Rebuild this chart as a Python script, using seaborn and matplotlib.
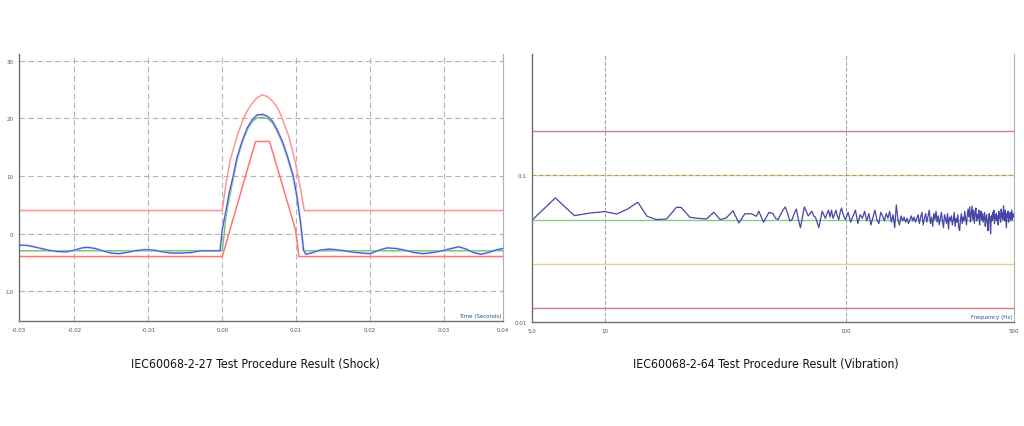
import numpy as np
import matplotlib
matplotlib.use('Agg')
import matplotlib.pyplot as plt
import seaborn as sns

# ---- shock test (IEC60068-2-27) ----
t_nominal = [-0.0275, 0.0, 0.0002, 0.0005, 0.001, 0.0015, 0.002, 0.0027, 0.0034, 0.0041,
             0.0047, 0.0054, 0.0061, 0.0068, 0.0074, 0.0081, 0.0088, 0.0096, 0.0101,
             0.0106, 0.011, 0.038]
g_nominal = [-3.0, -3.0, -0.8, 3.0, 6.4, 9.6, 12.8, 15.8, 18.1, 19.5,
             20.1, 20.2, 20.0, 19.2, 17.8, 15.8, 13.2, 9.7, 6.3,
             1.8, -3.0, -3.0]

t_measured = [-0.0275, -0.0265, -0.0255, -0.0245, -0.0235, -0.0225, -0.0212, -0.02, -0.019,
              -0.0182, -0.0172, -0.0162, -0.015, -0.014, -0.013, -0.0118, -0.0105, -0.0092,
              -0.008, -0.0068, -0.0055, -0.0042, -0.003, -0.0015, -0.0003, 0.0, 0.00045,
              0.0009, 0.00148, 0.002, 0.0027, 0.0034, 0.0041, 0.0047, 0.0054, 0.0061,
              0.0068, 0.0074, 0.0081, 0.0088, 0.0096, 0.0101, 0.0106, 0.011, 0.0113,
              0.012, 0.0132, 0.0145, 0.016, 0.0175, 0.019, 0.02, 0.0212, 0.0223, 0.0235,
              0.0247, 0.026, 0.0272, 0.0285, 0.0298, 0.031, 0.032, 0.033, 0.034, 0.035,
              0.036, 0.0372, 0.038]
g_measured = [-2.0, -2.05, -2.3, -2.6, -2.9, -3.1, -3.2, -2.9, -2.5,
              -2.4, -2.6, -3.0, -3.4, -3.5, -3.3, -3.0, -2.8, -2.9,
              -3.2, -3.4, -3.4, -3.3, -3.0, -3.0, -3.0, 0.7, 3.6,
              6.8, 10.0, 13.2, 16.1, 18.4, 19.8, 20.6, 20.7, 20.4,
              19.5, 18.1, 16.1, 13.5, 10.0, 6.5, 1.9, -2.9, -3.6,
              -3.4, -2.9, -2.7, -2.9, -3.2, -3.4, -3.5, -2.9, -2.5, -2.6,
              -2.9, -3.3, -3.5, -3.3, -3.0, -2.6, -2.3, -2.7, -3.3, -3.6,
              -3.3, -2.8, -2.6]

t_upper = [-0.0275, 0.0, 0.00045, 0.0011, 0.002, 0.0029, 0.0035, 0.0041, 0.0047, 0.0054,
           0.0061, 0.0068, 0.0074, 0.0079, 0.009, 0.0099, 0.0106, 0.0111, 0.038]
g_upper = [4.0, 4.0, 8.2, 12.9, 16.9, 20.1, 21.6, 22.7, 23.6, 24.1,
           23.8, 23.0, 22.0, 20.7, 16.9, 12.3, 7.7, 4.0, 4.0]

t_lower = [-0.0275, 0.0, 0.0045, 0.0064, 0.0099, 0.0102, 0.01035, 0.038]
g_lower = [-4.0, -4.0, 16.0, 16.0, 0.7, -2.0, -4.0, -4.0]

shock_xticks = [-0.0275, -0.02, -0.01, 0.0, 0.01, 0.02, 0.03, 0.038]
shock_xlabels = ['-0.03', '-0.02', '-0.01', '0.00', '0.01', '0.02', '0.03', '0.04']
shock_yticks = [-10, 0, 10, 20, 30]

# ---- vibration test (IEC60068-2-64) ----
freq_low = [5.0, 6.25, 7.5, 8.75, 10.0, 11.25, 12.5, 13.75, 15.0, 16.4, 18.1, 19.9, 20.8,
            22.6, 24.4, 26.5, 28.4, 30.2, 32.0, 34.1, 36.1, 38.2, 40.7, 42.7, 43.7, 45.7,
            48.1]
psd_low = [0.0495, 0.0703, 0.0532, 0.0555, 0.0567, 0.0546, 0.0592, 0.0657, 0.0527, 0.050,
           0.0505, 0.0607, 0.0605, 0.0518, 0.051, 0.0505, 0.0561, 0.050, 0.0513, 0.0574,
           0.0474, 0.0548, 0.0548, 0.0527, 0.057, 0.0479, 0.056]

freq_mid = np.arange(50, 99, 1.25)
psd_mid = [0.055, 0.051, 0.050, 0.054, 0.058, 0.061, 0.055, 0.049, 0.050, 0.055,
           0.059, 0.050, 0.044, 0.052, 0.061, 0.057, 0.053, 0.055, 0.057, 0.053,
           0.052, 0.048, 0.044, 0.050, 0.057, 0.054, 0.051, 0.055, 0.058, 0.052,
           0.058, 0.051, 0.054, 0.058, 0.053, 0.050, 0.056, 0.060, 0.055, 0.052]

freq_high = np.arange(100, 500.1, 2.5)
psd_high = [0.050, 0.056, 0.048, 0.053, 0.058, 0.047, 0.054, 0.051, 0.057, 0.049,
            0.055, 0.046, 0.052, 0.058, 0.050, 0.047, 0.056, 0.053, 0.049, 0.055,
            0.051, 0.057, 0.048, 0.054, 0.044, 0.063, 0.050, 0.046, 0.053, 0.049,
            0.052, 0.048, 0.051, 0.047, 0.050, 0.053, 0.049, 0.052, 0.048, 0.051,
            0.054, 0.047, 0.052, 0.056, 0.046, 0.051, 0.055, 0.048, 0.053, 0.058,
            0.047, 0.052, 0.045, 0.055, 0.050, 0.057, 0.048, 0.053, 0.046, 0.051,
            0.056, 0.049, 0.044, 0.054, 0.051, 0.047, 0.055, 0.043, 0.052, 0.049,
            0.053, 0.046, 0.050, 0.056, 0.045, 0.051, 0.048, 0.054, 0.044, 0.042,
            0.050, 0.055, 0.047, 0.052, 0.049, 0.057, 0.051, 0.046, 0.053, 0.059,
            0.052, 0.061, 0.048, 0.055, 0.062, 0.050, 0.058, 0.047, 0.056, 0.060,
            0.049, 0.054, 0.051, 0.058, 0.046, 0.053, 0.057, 0.050, 0.055, 0.048,
            0.052, 0.056, 0.045, 0.050, 0.054, 0.047, 0.042, 0.051, 0.055, 0.048,
            0.040, 0.053, 0.049, 0.056, 0.051, 0.058, 0.047, 0.054, 0.050, 0.055,
            0.049, 0.053, 0.046, 0.057, 0.051, 0.055, 0.048, 0.059, 0.052, 0.056,
            0.050, 0.062, 0.054, 0.049, 0.058, 0.051, 0.044, 0.055, 0.052, 0.057,
            0.048, 0.054, 0.051, 0.056, 0.049, 0.053, 0.058, 0.050, 0.055, 0.052,
            0.054]

band_freq = [5, 500]
psd_ref = 0.05
limits_3db = [0.1, 0.025]
limits_6db = [0.2, 0.0125]

vib_xticks = [5, 10, 100, 500]
vib_xlabels = ['5.0', '10', '100', '500']

# ---- style ----
sns.set_style('white')
plt.rcParams['font.family'] = ['DejaVu Sans']

fig = plt.figure(figsize=(10.24, 4.27), dpi=100)
ax1 = fig.add_axes([0.0186, 0.2459, 0.4727, 0.6253])
ax2 = fig.add_axes([0.5195, 0.2436, 0.4707, 0.6276])

grid_kw = dict(color='#b4b4b4', linewidth=0.8, linestyle=(0, (5, 3)), zorder=0)


def style_axes(ax):
    for side in ['left', 'bottom']:
        ax.spines[side].set_color('#707070')
        ax.spines[side].set_linewidth(1.0)
    ax.spines['right'].set_color('#b0b0b0')
    ax.spines['right'].set_linewidth(0.8)
    ax.spines['top'].set_visible(False)
    ax.tick_params(labelsize=4, colors='#555555', length=2.5, width=0.6, pad=1.5)


# shock chart
for x in shock_xticks[1:-1]:
    ax1.axvline(x, **grid_kw)
for y in shock_yticks:
    ax1.axhline(y, **grid_kw)

sns.lineplot(x=t_upper, y=g_upper, ax=ax1, color='#ff9494', linewidth=1.1, estimator=None)
sns.lineplot(x=t_lower, y=g_lower, ax=ax1, color='#ff7474', linewidth=1.1, estimator=None)
sns.lineplot(x=t_nominal, y=g_nominal, ax=ax1, color='#6cc46c', linewidth=1.0, estimator=None)
sns.lineplot(x=t_measured, y=g_measured, ax=ax1, color='#b4bcff', linewidth=1.5, estimator=None)
sns.lineplot(x=t_measured, y=g_measured, ax=ax1, color='#3a52c0', linewidth=0.7, estimator=None)

ax1.set_xlim(-0.0275, 0.038)
ax1.set_ylim(-15.2, 31.2)
ax1.set_xticks(shock_xticks)
ax1.set_xticklabels(shock_xlabels)
ax1.set_yticks(shock_yticks)
ax1.set_yticklabels([str(v) for v in shock_yticks])
ax1.set_xlabel('')
ax1.set_ylabel('')
style_axes(ax1)
ax1.text(0.997, 0.012, 'Time (Seconds)', transform=ax1.transAxes, ha='right', va='bottom',
         fontsize=4, color='#2f4fa8')

# vibration chart
for v in limits_6db:
    sns.lineplot(x=band_freq, y=[v, v], ax=ax2, color='#d07c90', linewidth=1.0, estimator=None)
for v in limits_3db:
    sns.lineplot(x=band_freq, y=[v, v], ax=ax2, color='#e6d486', linewidth=1.0, estimator=None)
sns.lineplot(x=band_freq, y=[psd_ref, psd_ref], ax=ax2, color='#8cc88c', linewidth=1.0,
             estimator=None)

freq_all = list(freq_low) + list(freq_mid) + list(freq_high)
psd_all = list(psd_low) + list(psd_mid) + list(psd_high)
sns.lineplot(x=freq_all, y=psd_all, ax=ax2, color='#4646a6', linewidth=0.9, estimator=None)

ax2.set_xscale('log')
ax2.set_yscale('log')
ax2.set_xlim(5, 500)
ax2.set_ylim(0.01, 0.675)
for x in vib_xticks[1:-1]:
    ax2.axvline(x, color='#a0a0a0', linewidth=0.7, linestyle=(0, (4, 2)), zorder=0)
ax2.axhline(0.1, color='#8a7a30', linewidth=0.7, linestyle=(0, (4, 3)), zorder=3, alpha=0.6)
ax2.set_xticks(vib_xticks)
ax2.set_xticklabels(vib_xlabels)
ax2.xaxis.set_minor_locator(matplotlib.ticker.NullLocator())
ax2.set_yticks([0.01, 0.1])
ax2.set_yticklabels(['0.01', '0.1'])
ax2.yaxis.set_minor_locator(matplotlib.ticker.NullLocator())
ax2.set_xlabel('')
ax2.set_ylabel('')
style_axes(ax2)
ax2.text(0.997, 0.012, 'Frequency (Hz)', transform=ax2.transAxes, ha='right', va='bottom',
         fontsize=4, color='#2f4fa8')

caption_kw = dict(ha='center', va='center', fontsize=8.8, color='#111111',
                  family='DejaVu Sans', fontstretch='condensed')
fig.text(255 / 1024, 1 - 365 / 427, 'IEC60068-2-27 Test Procedure Result (Shock)', **caption_kw)
fig.text(766 / 1024, 1 - 365 / 427, 'IEC60068-2-64 Test Procedure Result (Vibration)', **caption_kw)

fig.savefig('out.png', dpi=100, facecolor='white')
